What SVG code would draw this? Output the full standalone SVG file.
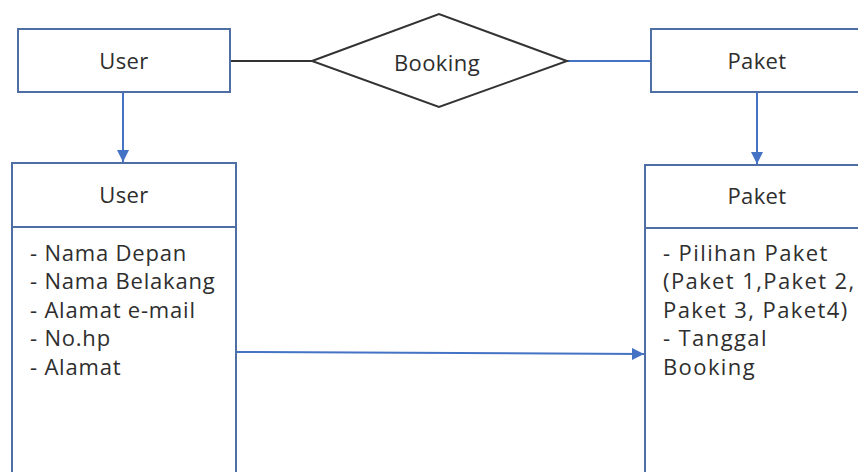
<svg xmlns="http://www.w3.org/2000/svg" width="858" height="472" viewBox="0 0 858 472">
  <style>
    .box { fill: #ffffff; stroke: #4f6ea3; stroke-width: 2; }
    .div { stroke: #4f6ea3; stroke-width: 2; }
    .rel { fill: #ffffff; stroke: #333333; stroke-width: 2; }
    .lbl { font-family: "Open Sans", "Liberation Sans", sans-serif; font-size: 22px; letter-spacing: 0.4px; fill: #2e2e2e; }
    .body { letter-spacing: 0.8px; }
    .wide { letter-spacing: 1.4px; }
    .mid { text-anchor: middle; }
    .blue { stroke: #4472c4; stroke-width: 2; fill: none; }
    .dark { stroke: #333333; stroke-width: 2; fill: none; }
  </style>
  <defs>
    <marker id="arr" viewBox="0 0 10 10" refX="10" refY="5" markerWidth="6" markerHeight="6" markerUnits="strokeWidth" orient="auto">
      <path d="M0,0 L10,5 L0,10 z" fill="#4472c4"/>
    </marker>
  </defs>
  <rect width="858" height="472" fill="#ffffff"/>

  <!-- connectors -->
  <g id="connectors">
    <line class="dark" x1="230" y1="61" x2="312" y2="61"/>
    <line class="blue" x1="567" y1="61" x2="651" y2="61"/>
    <line class="blue" x1="123" y1="92" x2="123" y2="162" marker-end="url(#arr)"/>
    <line class="blue" x1="757" y1="92" x2="757" y2="164" marker-end="url(#arr)"/>
    <line class="blue" x1="236" y1="352" x2="644" y2="354" marker-end="url(#arr)"/>
  </g>

  <!-- entity: User -->
  <g id="user-entity">
    <rect class="box" x="18" y="29" width="212" height="63"/>
    <text class="lbl mid" x="124" y="69">User</text>
  </g>

  <!-- relationship: Booking -->
  <g id="booking-rel">
    <polygon class="rel" points="312,61 439,14 567,61 439,107"/>
    <text class="lbl mid" x="437" y="71">Booking</text>
  </g>

  <!-- entity: Paket -->
  <g id="paket-entity">
    <rect class="box" x="651" y="29" width="220" height="63"/>
    <text class="lbl mid" x="757" y="69">Paket</text>
  </g>

  <!-- table: User -->
  <g id="user-table">
    <rect class="box" x="12" y="163" width="224" height="320"/>
    <line class="div" x1="12" y1="227" x2="236" y2="227"/>
    <text class="lbl mid" x="124" y="203">User</text>
    <text class="lbl body" x="30" y="261">- Nama Depan</text>
    <text class="lbl body" x="30" y="289">- Nama Belakang</text>
    <text class="lbl body" x="30" y="318">- Alamat e-mail</text>
    <text class="lbl body" x="30" y="346">- No.hp</text>
    <text class="lbl body" x="30" y="375">- Alamat</text>
  </g>

  <!-- table: Paket -->
  <g id="paket-table">
    <rect class="box" x="645" y="165" width="230" height="320"/>
    <line class="div" x1="645" y1="228" x2="875" y2="228"/>
    <text class="lbl mid" x="757" y="204">Paket</text>
    <text class="lbl wide" x="663" y="261">- Pilihan Paket</text>
    <text class="lbl wide" x="663" y="289">(Paket 1,Paket 2,</text>
    <text class="lbl wide" x="663" y="318">Paket 3, Paket4)</text>
    <text class="lbl wide" x="663" y="346">- Tanggal</text>
    <text class="lbl wide" x="663" y="375">Booking</text>
  </g>
</svg>
